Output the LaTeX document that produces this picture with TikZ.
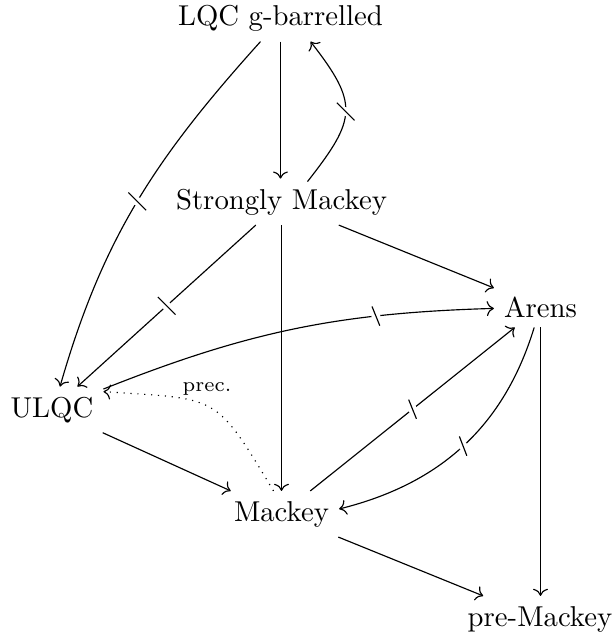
\documentclass[tikz,border=0pt]{standalone}
\usetikzlibrary{arrows.meta,calc}
\begin{document}
\begin{tikzpicture}[x=0.348pt,y=0.348pt,
  lbl/.style={inner sep=0.3333em, anchor=base},
  arr/.style={-{Computer Modern Rightarrow}, line width=0.4pt},
  gapmark/.style={fill=white}
]
\useasboundingbox (0,0) rectangle (614,-636);
\node[lbl] (L) at (280.5,-25.5) {LQC g-barrelled};
\node[lbl] (S) at (281.5,-209) {Strongly Mackey};
\node[lbl] (A) at (540.5,-317) {Arens};
\node[lbl] (U) at (52,-417) {ULQC};
\node[lbl] (M) at (281.5,-521) {Mackey};
\node[lbl] (P) at (540,-626) {pre-Mackey};

\draw[arr] (L) -- (L |- S.north);
\draw[arr] ($(S.north)+(26,-3)$) to[out=52,in=-52,looseness=1.45] coordinate[pos=.5] (n1) ($(L.south)+(30,0)$);
\draw[arr] ($(L.south)+(-20,0)$) to[out=228,in=74] coordinate[pos=.5] (n2) ($(U.north)+(8,0)$);
\draw[arr] (S) -- coordinate[pos=.5] (n3) (U);
\draw[arr] (S) -- (A);
\draw[arr] (S) -- (M);
\draw[arr] (U) to[bend left=10] coordinate[pos=.72] (n4) (A);
\draw[arr, dotted] ($(M.north)+(-8,0)$) to[out=121,in=-4,looseness=1.5] ($(U.north east)+(0,-5)$);
\node[font=\scriptsize] (prec) at (207,-389) {prec.};
\draw[arr] (U) -- (M);
\draw[arr] (M) -- coordinate[pos=.5] (n5) (A);
\draw[arr] (A) to[out=-107,in=14] coordinate[pos=.5] (n6) ($(M.east)+(0,5)$);
\draw[arr] (A) -- (A |- P.north);
\draw[arr] (M) -- (P);

\foreach \c/\a/\l in {n1/-45/4.35, n2/-45/4.35, n3/-45/4.35, n4/-68/3.6, n5/-68/3.6, n6/-69/3.6} {
  \fill[gapmark] (\c) circle (1.6pt);
  \draw (\c) +(\a:\l pt) -- +(\a:-\l pt);
}
\end{tikzpicture}
\end{document}
